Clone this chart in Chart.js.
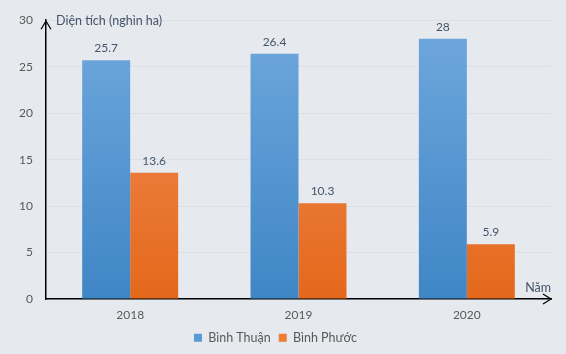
<!DOCTYPE html>
<html>
<head>
<meta charset="utf-8">
<script src="https://cdn.jsdelivr.net/npm/chart.js@4.4.0/dist/chart.umd.min.js"></script>
<style>
  html, body { margin: 0; padding: 0; background: #e6e9ee; }
  #wrap { width: 566px; height: 354px; }
</style>
</head>
<body>
<div id="wrap"><canvas id="bieuDo"></canvas></div>
<script>
const nam = ['2018', '2019', '2020'];
const binhThuan = [25.7, 26.4, 28];
const binhPhuoc = [13.6, 10.3, 5.9];
const yTicks = [0, 5, 10, 15, 20, 25, 30];

const chu = 'Lato, "Noto Sans", sans-serif';
const mauChu = '#44546a';

function gradient(ctx, top, bottom) {
  const area = ctx.chart.chartArea;
  if (!area) return top;
  const g = ctx.chart.ctx.createLinearGradient(0, area.top, 0, area.bottom);
  g.addColorStop(0, top);
  g.addColorStop(1, bottom);
  return g;
}

// nhãn số liệu, mũi tên trục và tiêu đề trục
const trangTri = {
  id: 'trangTri',
  afterDatasetsDraw(chart) {
    const c = chart.ctx;
    const a = chart.chartArea;
    c.save();
    c.font = '12px ' + chu;
    c.fillStyle = mauChu;
    c.textAlign = 'center';
    c.textBaseline = 'bottom';
    chart.data.datasets.forEach((ds, i) => {
      chart.getDatasetMeta(i).data.forEach((bar, j) => {
        c.fillText(String(ds.data[j]), bar.x, bar.y - 6);
      });
    });

    c.strokeStyle = '#000';
    c.lineWidth = 1.2;
    // mũi tên trục tung
    c.beginPath();
    c.moveTo(a.left - 5, a.top + 9);
    c.lineTo(a.left, a.top + 1);
    c.lineTo(a.left + 5, a.top + 9);
    c.stroke();
    // mũi tên trục hoành
    c.beginPath();
    c.moveTo(a.right - 8, a.bottom - 5);
    c.lineTo(a.right, a.bottom);
    c.lineTo(a.right - 8, a.bottom + 5);
    c.stroke();

    c.font = '12.5px ' + chu;
    c.textBaseline = 'middle';
    c.textAlign = 'left';
    c.fillText('Diện tích (nghìn ha)', a.left + 10, a.top + 1);
    c.textAlign = 'right';
    c.fillText('Năm', a.right, a.bottom - 11);
    c.restore();
  }
};

new Chart(document.getElementById('bieuDo'), {
  type: 'bar',
  data: {
    labels: nam,
    datasets: [
      {
        label: 'Bình Thuận',
        data: binhThuan,
        backgroundColor: ctx => gradient(ctx, '#70a8dd', '#3f86c6'),
        borderWidth: 0
      },
      {
        label: 'Bình Phước',
        data: binhPhuoc,
        backgroundColor: ctx => gradient(ctx, '#f28f5c', '#e4681a'),
        borderWidth: 0
      }
    ]
  },
  options: {
    responsive: true,
    maintainAspectRatio: false,
    animation: false,
    layout: { padding: { top: 14, right: 15, left: 0, bottom: 0 } },
    datasets: { bar: { categoryPercentage: 0.57, barPercentage: 1 } },
    plugins: {
      tooltip: { enabled: false },
      legend: {
        position: 'bottom',
        labels: {
          boxWidth: 8,
          boxHeight: 8,
          padding: 8,
          color: '#595959',
          font: { family: chu, size: 12.5 },
          generateLabels(chart) {
            const mau = ['#5b9bd5', '#ed7d31'];
            return chart.data.datasets.map((ds, i) => ({
              text: ds.label,
              fillStyle: mau[i],
              strokeStyle: mau[i],
              lineWidth: 0,
              fontColor: '#595959',
              datasetIndex: i
            }));
          }
        }
      }
    },
    scales: {
      x: {
        grid: { display: false },
        border: { display: true, color: '#000', width: 1.5 },
        ticks: { color: '#595959', font: { family: chu, size: 12 }, padding: 1 }
      },
      y: {
        min: 0,
        max: 30,
        afterFit(scale) { scale.width = 46; },
        afterBuildTicks(scale) { scale.ticks = yTicks.map(v => ({ value: v })); },
        grid: { color: '#dce0e6', drawTicks: false },
        border: { display: true, color: '#000', width: 1.5 },
        ticks: { color: '#595959', font: { family: chu, size: 12 }, padding: 13 }
      }
    }
  },
  plugins: [trangTri]
});
</script>
</body>
</html>
